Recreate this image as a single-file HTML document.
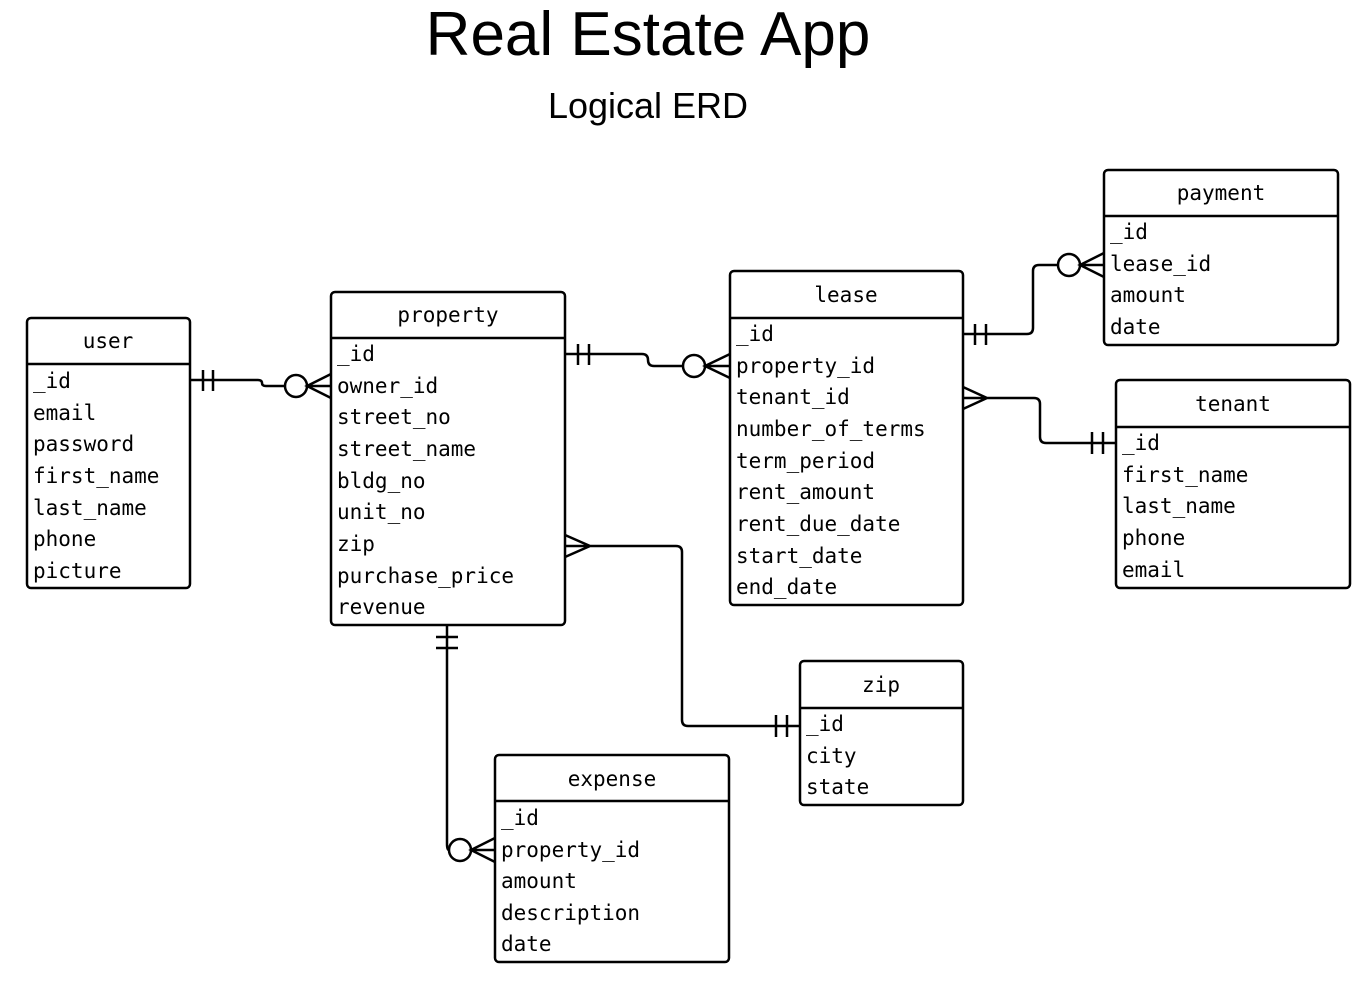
<!DOCTYPE html>
<html><head><style>
html,body{margin:0;padding:0;background:#fff}
svg text{font-family:"DejaVu Sans Mono","Liberation Mono",monospace;font-size:21px;fill:#000}
svg text.t{font-family:"Liberation Sans",sans-serif}
</style></head><body>
<svg width="1372" height="976" viewBox="0 0 1372 976" xmlns="http://www.w3.org/2000/svg">
<text class="t" x="648" y="55" text-anchor="middle" style="font-size:62px">Real Estate App</text>
<text class="t" x="648" y="118" text-anchor="middle" style="font-size:36px">Logical ERD</text>
<g fill="none" stroke="#000" stroke-width="2.5">
<rect x="27" y="318" width="163" height="270" rx="4"/><line x1="27" y1="364" x2="190" y2="364"/>
<rect x="331" y="292" width="234" height="333" rx="4"/><line x1="331" y1="338" x2="565" y2="338"/>
<rect x="730" y="271" width="233" height="334" rx="4"/><line x1="730" y1="318" x2="963" y2="318"/>
<rect x="1104" y="170" width="234" height="175" rx="4"/><line x1="1104" y1="216" x2="1338" y2="216"/>
<rect x="1116" y="380" width="234" height="208" rx="4"/><line x1="1116" y1="427" x2="1350" y2="427"/>
<rect x="800" y="661" width="163" height="144" rx="4"/><line x1="800" y1="708" x2="963" y2="708"/>
<rect x="495" y="755" width="234" height="207" rx="4"/><line x1="495" y1="801" x2="729" y2="801"/>
<path d="M190 380 H258 Q262 380 262 383 Q262 386 266 386 H285"/>
<line x1="203" y1="370" x2="203" y2="391"/><line x1="213" y1="370" x2="213" y2="391"/>
<circle cx="296" cy="386" r="11"/>
<path d="M331 374 L307 386 L331 398 M307 386 H331"/>
<path d="M565 354 H642 Q648 354 648 360 Q648 366 654 366 H683"/>
<line x1="578" y1="344" x2="578" y2="365"/><line x1="589" y1="344" x2="589" y2="365"/>
<circle cx="694" cy="366" r="11"/>
<path d="M730 354 L705 366 L730 378 M705 366 H730"/>
<path d="M963 334 H1027 Q1033 334 1033 328 V271 Q1033 265 1039 265 H1058"/>
<line x1="975" y1="324" x2="975" y2="345"/><line x1="986" y1="324" x2="986" y2="345"/>
<circle cx="1069" cy="265" r="11"/>
<path d="M1104 253 L1080 265 L1104 277 M1080 265 H1104"/>
<path d="M963 387 L987 398 L963 409 M963 398 H1034 Q1040 398 1040 404 V437 Q1040 443 1046 443 H1116"/>
<line x1="1092" y1="432" x2="1092" y2="454"/><line x1="1103" y1="432" x2="1103" y2="454"/>
<path d="M565 535 L590 546 L565 557 M565 546 H676 Q682 546 682 552 V720 Q682 726 688 726 H800"/>
<line x1="776" y1="715" x2="776" y2="737"/><line x1="787" y1="715" x2="787" y2="737"/>
<path d="M447 625 V844 Q447 850 449 850"/>
<line x1="436" y1="637" x2="458" y2="637"/><line x1="436" y1="648" x2="458" y2="648"/>
<circle cx="460" cy="850" r="11"/>
<path d="M495 838 L471 850 L495 862 M471 850 H495"/>
</g>
<text x="108" y="348" text-anchor="middle">user</text>
<text x="33" y="388">_id</text><text x="33" y="420">email</text><text x="33" y="451">password</text><text x="33" y="483">first_name</text><text x="33" y="515">last_name</text><text x="33" y="546">phone</text><text x="33" y="578">picture</text>
<text x="448" y="322" text-anchor="middle">property</text>
<text x="337" y="361">_id</text><text x="337" y="393">owner_id</text><text x="337" y="424">street_no</text><text x="337" y="456">street_name</text><text x="337" y="488">bldg_no</text><text x="337" y="519">unit_no</text><text x="337" y="551">zip</text><text x="337" y="583">purchase_price</text><text x="337" y="614">revenue</text>
<text x="846" y="302" text-anchor="middle">lease</text>
<text x="736" y="341">_id</text><text x="736" y="373">property_id</text><text x="736" y="404">tenant_id</text><text x="736" y="436">number_of_terms</text><text x="736" y="468">term_period</text><text x="736" y="499">rent_amount</text><text x="736" y="531">rent_due_date</text><text x="736" y="563">start_date</text><text x="736" y="594">end_date</text>
<text x="1221" y="200" text-anchor="middle">payment</text>
<text x="1110" y="239">_id</text><text x="1110" y="271">lease_id</text><text x="1110" y="302">amount</text><text x="1110" y="334">date</text>
<text x="1233" y="411" text-anchor="middle">tenant</text>
<text x="1122" y="450">_id</text><text x="1122" y="482">first_name</text><text x="1122" y="513">last_name</text><text x="1122" y="545">phone</text><text x="1122" y="577">email</text>
<text x="881" y="692" text-anchor="middle">zip</text>
<text x="806" y="731">_id</text><text x="806" y="763">city</text><text x="806" y="794">state</text>
<text x="612" y="786" text-anchor="middle">expense</text>
<text x="501" y="825">_id</text><text x="501" y="857">property_id</text><text x="501" y="888">amount</text><text x="501" y="920">description</text><text x="501" y="951">date</text>
</svg>
</body></html>
